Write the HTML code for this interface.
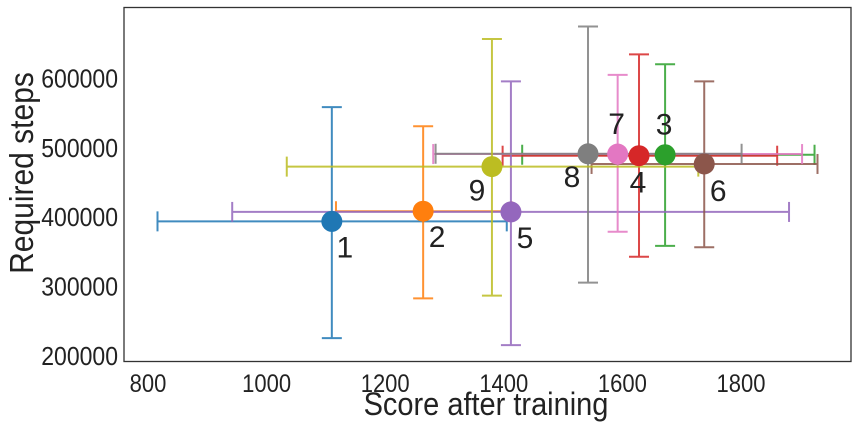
<!DOCTYPE html>
<html><head><meta charset="utf-8"><style>
html,body{margin:0;padding:0;background:#fff;}
svg{display:block;font-family:"Liberation Sans",sans-serif;}
</style></head><body>
<svg id="chart" width="858" height="428">
<rect x="124" y="7.5" width="727" height="354" fill="#fff" stroke="#333" stroke-width="1.3"/>
<g id="marks"></g>
<g id="ticks"></g>
<text x="0" y="0" transform="translate(486,415) scale(1,1.12)" font-size="29" text-anchor="middle" fill="#222">Score after training</text>
<text x="0" y="0" transform="translate(33,173) rotate(-90) scale(1,1.12)" font-size="30" text-anchor="middle" fill="#222">Required steps</text>
</svg>
<script>
const labels=["1","2","3","4","5","6","7","8","9"];
const colors=["#1f77b4","#ff7f0e","#2ca02c","#d62728","#9467bd","#8c564b","#e377c2","#7f7f7f","#bcbd22"];
const scores=[1110,1264,1672,1628,1412,1738,1592,1542,1380];
const steps=[394000,408600,490000,488600,407600,476700,491000,491400,472900];
const xLo=[816,1117,1431,1398,942,1548,1281,1285,1034];
const xHi=[1405,1413,1924,1861,1881,1929,1903,1801,1728];
const yLo=[225700,283000,358600,343000,215700,356700,379000,305700,287000];
const yHi=[558600,531000,620400,634700,595700,595700,605000,674700,656700];
const xTicks=[800,1000,1200,1400,1600,1800];
const yTicks=[200000,300000,400000,500000,600000];
const labelDx=[13,14,-1,-1,14,14,-1,-16,-15];
const labelDy=[36,36,-20,37,36,37,-20,33,34];
const X=v=>148+(v-800)*0.593;
const Y=v=>356-(v-200000)*0.000694;
const NS="http://www.w3.org/2000/svg";
const marks=document.getElementById('marks'), ticks=document.getElementById('ticks');
function mk(tag,attrs,parent){const e=document.createElementNS(NS,tag);for(const k in attrs)e.setAttribute(k,attrs[k]);parent.appendChild(e);return e;}
labels.forEach((lab,i)=>{
  const g=mk('g',{stroke:colors[i],'stroke-width':2,opacity:0.85},marks);
  
  
  const cx=X(scores[i]),cy=Y(steps[i]);
  mk('line',{x1:X(xLo[i]),x2:X(xHi[i]),y1:cy,y2:cy},g);
  mk('line',{x1:X(xLo[i]),x2:X(xLo[i]),y1:cy-10,y2:cy+10},g);
  mk('line',{x1:X(xHi[i]),x2:X(xHi[i]),y1:cy-10,y2:cy+10},g);
  mk('line',{x1:cx,x2:cx,y1:Y(yLo[i]),y2:Y(yHi[i])},g);
  mk('line',{x1:cx-10,x2:cx+10,y1:Y(yLo[i]),y2:Y(yLo[i])},g);
  mk('line',{x1:cx-10,x2:cx+10,y1:Y(yHi[i]),y2:Y(yHi[i])},g);
});
labels.forEach((lab,i)=>{
  const cx=X(scores[i]),cy=Y(steps[i]);
  const c=mk('circle',{cx:cx,cy:cy,r:10.5,fill:colors[i]},marks);
  
  
  const t=mk('text',{x:cx+labelDx[i],y:cy+labelDy[i],'font-size':30,'text-anchor':'middle',fill:'#222'},marks);
  t.textContent=lab;
  
  
});
xTicks.forEach(v=>{
  const t=mk('text',{x:X(v),y:392,'font-size':22,'text-anchor':'middle',fill:'#222',transform:'translate(0,'+(-392*0.12)+') scale(1,1.12)'},ticks);
  t.textContent=v;
  
  
});
yTicks.forEach(v=>{
  const yy=Y(v)+9;
  const t=mk('text',{x:118,y:yy,'font-size':23,'text-anchor':'end',fill:'#222',transform:'translate(0,'+(-yy*0.12)+') scale(1,1.12)'},ticks);
  t.textContent=v;
  
  
});
</script>
</body></html>
